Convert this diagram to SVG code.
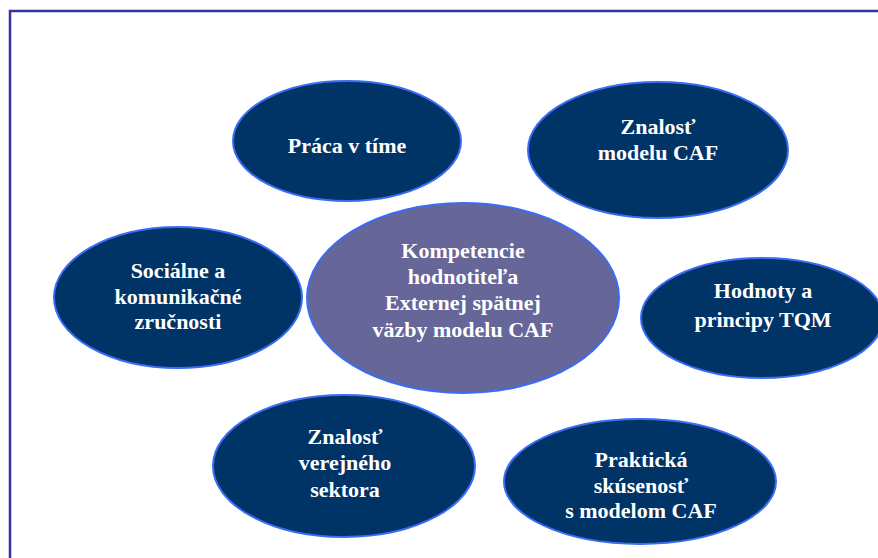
<svg xmlns="http://www.w3.org/2000/svg" width="878" height="558" viewBox="0 0 878 558">
<style>
.n{fill:#003366;stroke:#3a6cf5;stroke-width:2}
.c{fill:#666699;stroke:#3a6cf5;stroke-width:2}
text{font-family:"Liberation Serif","Times New Roman",serif;font-weight:bold;font-size:22px;fill:#ffffff;text-anchor:middle}
</style>
<rect width="878" height="558" fill="#ffffff"/>
<path d="M10,558 V11 H878" fill="none" stroke="#333399" stroke-width="2.5"/>
<g id="connectors"></g>
<g id="n-praca">
<ellipse class="n" cx="347" cy="141" rx="114" ry="60"/>
<text x="347" y="153">Práca v tíme</text>
</g>
<g id="n-znalost-caf">
<ellipse class="n" cx="658" cy="150" rx="130" ry="68"/>
<text x="658" y="134">Znalosť</text>
<text x="658" y="160">modelu CAF</text>
</g>
<g id="n-socialne">
<ellipse class="n" cx="178" cy="297.5" rx="124" ry="70.5"/>
<text x="178" y="278">Sociálne a</text>
<text x="178" y="303.5">komunikačné</text>
<text x="178" y="329">zručnosti</text>
</g>
<g id="n-hodnoty">
<ellipse class="n" cx="762" cy="318" rx="121" ry="60"/>
<text x="763" y="298">Hodnoty a</text>
<text x="763" y="327">principy TQM</text>
</g>
<g id="n-verejny">
<ellipse class="n" cx="344" cy="466" rx="131" ry="71"/>
<text x="345" y="444">Znalosť</text>
<text x="345" y="470">verejného</text>
<text x="345" y="497">sektora</text>
</g>
<g id="n-prakticka">
<ellipse class="n" cx="640" cy="481.5" rx="136" ry="62.5"/>
<text x="641" y="467">Praktická</text>
<text x="641" y="492.5">skúsenosť</text>
<text x="641" y="518">s modelom CAF</text>
</g>
<g id="n-center">
<ellipse class="c" cx="463" cy="298" rx="156" ry="95"/>
<text x="463" y="258">Kompetencie</text>
<text x="463" y="284">hodnotiteľa</text>
<text x="463" y="310">Externej spätnej</text>
<text x="463" y="337">väzby modelu CAF</text>
</g>
</svg>
